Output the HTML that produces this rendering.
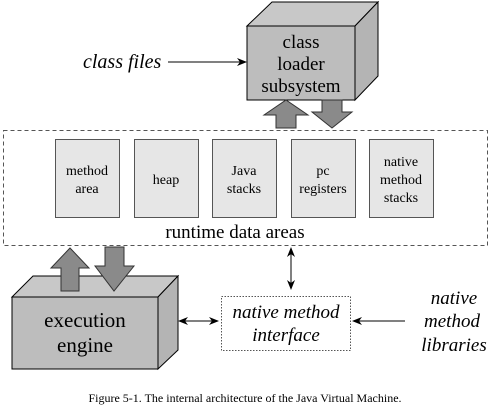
<!DOCTYPE html>
<html><head><meta charset="utf-8"><style>
html,body{margin:0;padding:0;background:#fff;}
svg{display:block;}
svg text{font-family:'Liberation Serif','DejaVu Serif',serif !important;}
</style></head><body>
<svg width="500" height="413" viewBox="0 0 500 413" xmlns="http://www.w3.org/2000/svg" style="font-family:'Liberation Serif','DejaVu Serif',serif">
<defs>
<marker id="ah" markerWidth="10" markerHeight="8" refX="9" refY="4" orient="auto" markerUnits="userSpaceOnUse">
<path d="M0,0 L10,4 L0,8 L3,4 Z" fill="#000"/></marker>
</defs>
<g fill="#000">
<polygon points="247,26 272,2 378,2 355,26" fill="#c8c8c8" stroke="#000"/>
<polygon points="355,26 378,2 378,76 355,100" fill="#b4b4b4" stroke="#000"/>
<rect x="247" y="26" width="108" height="74" fill="#bdbdbd" stroke="#000"/>
<text x="301" y="48" font-size="19" text-anchor="middle">class</text>
<text x="301" y="70" font-size="19" text-anchor="middle">loader</text>
<text x="301" y="92" font-size="19" text-anchor="middle">subsystem</text>
<polygon points="276,128 276,115 264,115 286,100 308,115 296,115 296,128" fill="#8a8a8a" stroke="#333"/>
<polygon points="322,100 342,100 342,112 352,112 332,128 312,112 322,112" fill="#8a8a8a" stroke="#333"/>
<text x="83" y="68" font-size="20" font-style="italic">class files</text>
<line x1="168" y1="62" x2="246" y2="62" stroke="#000" marker-end="url(#ah)"/>
<rect x="3.5" y="130.5" width="484" height="115" fill="none" stroke="#555" stroke-dasharray="4,3"/>
<g fill="#e6e6e6" stroke="#555">
<rect x="55.5" y="139.5" width="64" height="78"/>
<rect x="134.5" y="139.5" width="64" height="78"/>
<rect x="212.5" y="139.5" width="64" height="78"/>
<rect x="291.5" y="139.5" width="64" height="78"/>
<rect x="369.5" y="139.5" width="64" height="78"/>
</g>
<g font-size="14" text-anchor="middle">
<text x="87" y="175">method</text><text x="87" y="193">area</text>
<text x="166" y="184">heap</text>
<text x="244" y="175">Java</text><text x="244" y="193">stacks</text>
<text x="323" y="175">pc</text><text x="323" y="193">registers</text>
<text x="401" y="166">native</text><text x="401" y="184">method</text><text x="401" y="202">stacks</text>
</g>
<text x="235" y="238" font-size="19" text-anchor="middle">runtime data areas</text>
<polygon points="12,297 33,276 178,276 158,297" fill="#c8c8c8" stroke="#000"/>
<polygon points="158,297 178,276 178,350 158,369" fill="#b4b4b4" stroke="#000"/>
<rect x="12" y="297" width="146" height="72" fill="#bdbdbd" stroke="#000"/>
<text x="85" y="327" font-size="21" text-anchor="middle">execution</text>
<text x="85" y="352" font-size="21" text-anchor="middle">engine</text>
<polygon points="61,291 61,268 51,268 70,248 89,268 79,268 79,291" fill="#8a8a8a" stroke="#333"/>
<polygon points="105,247 124,247 124,266 134,266 114,291 95,266 105,266" fill="#8a8a8a" stroke="#333"/>
<rect x="221.5" y="296.5" width="129" height="54" fill="none" stroke="#555" stroke-dasharray="1.5,1.5"/>
<text x="286" y="318" font-size="19" font-style="italic" text-anchor="middle">native method</text>
<text x="286" y="341" font-size="19" font-style="italic" text-anchor="middle">interface</text>
<path d="M291,247 L295,257 L291,254 L287,257 Z" fill="#000"/>
<path d="M291,290 L295,280 L291,283 L287,280 Z" fill="#000"/>
<line x1="291" y1="254" x2="291" y2="283" stroke="#000"/>
<line x1="180" y1="321" x2="218" y2="321" stroke="#000"/>
<path d="M178,321 L188,317 L185,321 L188,325 Z" fill="#000"/>
<path d="M219,321 L209,317 L212,321 L209,325 Z" fill="#000"/>
<line x1="355" y1="321" x2="405" y2="321" stroke="#000"/>
<path d="M352,321 L362,317 L359,321 L362,325 Z" fill="#000"/>
<g font-size="19" font-style="italic" text-anchor="middle">
<text x="454" y="304">native</text>
<text x="452" y="327">method</text>
<text x="454" y="351">libraries</text>
</g>
<text x="245" y="402" font-size="12" text-anchor="middle">Figure 5-1. The internal architecture of the Java Virtual Machine.</text>
</g>
</svg>
</body></html>
